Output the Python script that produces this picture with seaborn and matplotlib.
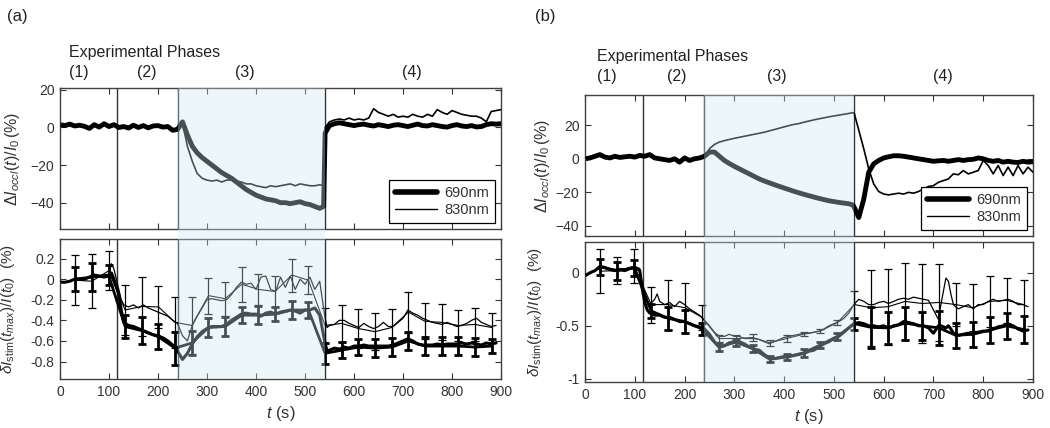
import numpy as np
import matplotlib
matplotlib.use("Agg")
import matplotlib.pyplot as plt
import matplotlib.transforms as mtransforms
from matplotlib.patches import Rectangle
from matplotlib.lines import Line2D
import seaborn as sns

# ---------------- data ----------------
# top panels: time grid (s)
T_TOP = list(range(0, 540, 10)) + [538, 541] + list(range(550, 910, 10))

occl_690_a = [1.5, 1.0, 1.8, 0.8, 1.2, 0.6, -0.5, 1.5, 0.2, 2.0,
              0.5, 1.5, 0.0, 0.5, -0.3, 1.2, 0.0, 1.0, -0.2, 0.8,
              1.0, 0.2, 0.5, -1.5, -1.0, 3.0, -4.0, -10.0, -13.5, -16.0,
              -18, -20, -22, -24, -25.5, -27, -29, -31, -33, -34.5,
              -36, -37, -38, -38.5, -39, -40, -40, -40.5, -40, -39.5,
              -40.5, -41, -42, -43,
              -42.0, -3.0,
              1.0, 2.0, 2.5, 2.0, 1.5, 1.0, 1.5, 1.8, 1.2, 0.8,
              1.5, 1.0, 0.5, 1.2, 1.5, 1.0, 0.5, 1.2, 1.8, 1.0,
              0.8, 1.5, 1.0, 0.5, 0.2, 1.0, 1.5, 0.8, 0.5, 1.0,
              0.3, 0.5, 1.5, 2.0, 1.8, 2.0]
occl_830_a = [1.0, 1.5, 1.2, 0.5, 1.5, 0.2, 0.0, 2.0, 0.8, 1.5,
              0.0, 1.8, 0.5, 0.0, 0.5, 1.5, -0.5, 1.5, 0.3, 0.2,
              1.5, 0.0, 0.8, -1.0, -0.5, 2.5, -10, -18, -24.5, -27,
              -28, -28.5, -28, -29, -28, -28, -28.5, -29, -30, -30,
              -31, -31.5, -32, -31, -31.5, -31, -30.5, -30, -31, -30,
              -30.5, -31, -31, -30.5,
              -31.0, 0.0,
              3.0, 4.0, 4.5, 4.0, 5.0, 4.0, 4.5, 4.0, 5.0, 10.0,
              8.0, 7.0, 6.0, 7.0, 5.5, 6.0, 5.5, 7.0, 6.0, 5.5,
              7.0, 6.0, 9.5, 8.0, 7.0, 9.0, 8.0, 7.0, 6.5, 6.0,
              6.0, 5.0, 3.0, 8.5, 9.0, 9.5]

occl_690_b = [0.0, 0.5, 1.5, 2.5, 1.0, 0.5, 1.5, 0.8, 1.2, 1.5,
              1.0, 2.0, 1.5, 2.5, 0.5, 0.0, -0.5, -1.0, 0.0, -2.0,
              0.5, -1.0, 0.0, 0.5,
              1.5, 4.0, 4.0, 1.5, -1.0, -2.8, -4.5, -6.0, -7.5, -9.0,
              -10.5, -12.0, -13.2, -14.3, -15.4, -16.4, -17.4, -18.4, -19.4, -20.3,
              -21.2, -22.0, -22.8, -23.6, -24.3, -25.0, -25.5, -26.0, -26.4, -26.8,
              -27.5, -29.0,
              -35, -24, -8, -3, -1, 0.5, 1.2, 1.8, 1.8, 1.5,
              1.0, 0.5, 0.0, -0.5, -1.0, -1.5, -1.2, -1.0, -1.5, -1.0,
              -0.5, -1.0, -0.5, -0.3, 0.5, 0.0, -1.0, -1.5, -1.0, -2.0,
              -1.5, -2.0, -2.2, -1.5, -2.0, -1.8]
occl_830_b = [0.5, 1.0, 2.0, 1.5, 0.5, 1.0, 2.0, 0.5, 1.5, 1.0,
              1.5, 2.5, 1.0, 2.0, 0.0, 0.5, -1.0, -0.5, -0.5, -1.5,
              0.0, -0.5, 0.5, 0.0,
              1.0, 6.0, 8.5, 10.0, 10.8, 11.5, 12.2, 12.8, 13.4, 14.0,
              14.6, 15.2, 15.8, 16.6, 17.4, 18.2, 19.0, 19.8, 20.5, 21.0,
              21.8, 22.5, 23.2, 23.8, 24.4, 25.0, 25.5, 26.0, 26.5, 27.0,
              27.5, 27.0,
              17, 6, -6, -15, -19.5, -21, -21.5, -21, -20.5, -21,
              -20, -20.5, -19.5, -18, -16.5, -16, -14, -13, -12, -9,
              -9.5, -7, -9, -8, -7, -1, -4, -9, -4, -10,
              -5, -10, -4, -9, -5, -8]

# bottom panels: fine curves
T_BOT_A = list(range(0, 101, 10)) + [105, 110, 120, 125] + list(range(130, 541, 10)) + [545] + list(range(550, 891, 10))
stim_690_a = [-0.03, -0.03, -0.02, 0.0, 0.0, 0.0, 0.02, 0.04, 0.03, 0.02, 0.03,
              0.06, 0.0, -0.15, -0.3,
              -0.42, -0.45, -0.46, -0.48, -0.5, -0.52, -0.54, -0.55, -0.57, -0.6,
              -0.64, -0.7, -0.78, -0.72, -0.63, -0.56, -0.51, -0.48, -0.46, -0.46,
              -0.46, -0.44, -0.4, -0.37, -0.34, -0.33, -0.34, -0.34, -0.36, -0.33,
              -0.32, -0.34, -0.32, -0.31, -0.3, -0.31, -0.33, -0.3, -0.3, -0.28,
              -0.35, -0.6,
              -0.7,
              -0.69, -0.67, -0.68, -0.66, -0.67, -0.65, -0.65, -0.64, -0.65, -0.65,
              -0.65, -0.65, -0.65, -0.64, -0.62, -0.6, -0.58, -0.6, -0.63, -0.64,
              -0.64, -0.64, -0.63, -0.64, -0.63, -0.63, -0.63, -0.62, -0.63, -0.62,
              -0.63, -0.64, -0.62, -0.63, -0.62]
stim_830_a = [-0.02, -0.03, -0.02, 0.0, 0.01, 0.0, 0.02, 0.03, 0.02, 0.03, 0.05,
              0.15, 0.1, -0.1, -0.2,
              -0.25, -0.27, -0.25, -0.28, -0.25, -0.28, -0.3, -0.32, -0.34, -0.36,
              -0.4, -0.43, -0.55, -0.6, -0.45, -0.36, -0.28, -0.2, -0.19, -0.2,
              -0.21, -0.2, -0.15, -0.08, -0.03, -0.05, -0.04, -0.1, 0.02, 0.03,
              -0.1, -0.12, 0.02, -0.08, 0.03, -0.1, 0.0, -0.05, 0.02, -0.1,
              -0.02, -0.35,
              -0.47,
              -0.45, -0.44, -0.4, -0.4, -0.43, -0.45, -0.47, -0.43, -0.46, -0.48,
              -0.46, -0.42, -0.46, -0.46, -0.42, -0.38, -0.3, -0.33, -0.35, -0.38,
              -0.4, -0.42, -0.43, -0.44, -0.42, -0.44, -0.46, -0.45, -0.43, -0.4,
              -0.38, -0.42, -0.44, -0.46, -0.45]

T_BOT_B = list(range(0, 111, 10)) + [115, 120, 125, 130, 140, 145] + list(range(150, 711, 10)) + [715, 725, 730, 735] + list(range(740, 891, 10))
stim_690_b = [-0.03, 0.0, 0.02, 0.06, 0.05, 0.03, 0.02, 0.03, 0.02, 0.04, 0.05, 0.02,
              -0.15, -0.28, -0.35, -0.38, -0.4, -0.4,
              -0.4, -0.42, -0.42, -0.44, -0.46, -0.46, -0.48, -0.5, -0.51, -0.53,
              -0.58, -0.65, -0.7, -0.69, -0.66, -0.65, -0.65, -0.67, -0.7, -0.72,
              -0.73, -0.77, -0.8, -0.81, -0.8, -0.79, -0.79, -0.78, -0.77, -0.76,
              -0.74, -0.73, -0.7, -0.67, -0.65, -0.62, -0.6, -0.56, -0.52, -0.48,
              -0.47, -0.48, -0.5, -0.5, -0.51, -0.5, -0.52, -0.5, -0.49, -0.46,
              -0.47, -0.48, -0.5, -0.5, -0.52, -0.57, -0.5,
              -0.5, -0.52, -0.5, -0.53,
              -0.57, -0.59, -0.58, -0.57, -0.58, -0.56, -0.55, -0.55, -0.53, -0.51,
              -0.5, -0.49, -0.5, -0.53, -0.55, -0.54]
stim_830_b = [-0.02, 0.0, 0.02, 0.04, 0.05, 0.03, 0.03, 0.04, 0.03, 0.05, 0.06, 0.04,
              -0.1, -0.2, -0.28, -0.3, -0.25, -0.2,
              -0.27, -0.3, -0.28, -0.32, -0.27, -0.3, -0.34, -0.37, -0.4, -0.45,
              -0.5, -0.56, -0.6, -0.6, -0.58, -0.6, -0.6, -0.62, -0.62, -0.62,
              -0.63, -0.65, -0.67, -0.65, -0.63, -0.61, -0.6, -0.59, -0.58, -0.57,
              -0.57, -0.56, -0.55, -0.53, -0.5, -0.48, -0.46, -0.43, -0.38, -0.3,
              -0.25, -0.27, -0.3, -0.3, -0.28, -0.27, -0.29, -0.27, -0.25, -0.24,
              -0.25, -0.23, -0.24, -0.25, -0.26, -0.35, -0.44,
              -0.3, -0.05, -0.08, -0.2,
              -0.3, -0.34, -0.32, -0.3, -0.34, -0.3, -0.3, -0.27, -0.25, -0.27,
              -0.26, -0.25, -0.27, -0.3, -0.3, -0.32]

# error bar samples
T_BAR = [31, 65, 99, 133, 167, 201, 235, 269, 303, 337, 371, 405, 439,
         473, 507, 541, 575, 609, 643, 677, 711, 745, 779, 813, 847, 881]
bar_690_a = [0.0, 0.02, 0.04, -0.46, -0.5, -0.56, -0.67, -0.62, -0.47, -0.46, -0.35, -0.35, -0.34,
             -0.3, -0.3, -0.72, -0.69, -0.66, -0.67, -0.66, -0.6, -0.65, -0.65, -0.65, -0.66, -0.65]
err_690_a = [0.115, 0.135, 0.1, 0.11, 0.13, 0.12, 0.16, 0.115, 0.09, 0.095, 0.08, 0.085, 0.07,
             0.085, 0.075, 0.1, 0.08, 0.08, 0.09, 0.09, 0.085, 0.09, 0.09, 0.09, 0.085, 0.07]
bar_830_a = [-0.01, -0.02, 0.08, -0.3, -0.265, -0.27, -0.42, -0.45, -0.16, -0.19, -0.05, -0.1, -0.12,
             0.04, -0.01, -0.45, -0.43, -0.48, -0.51, -0.47, -0.32, -0.41, -0.42, -0.45, -0.44, -0.47]
err_830_a = [0.24, 0.26, 0.19, 0.245, 0.285, 0.2, 0.25, 0.28, 0.175, 0.165, 0.17, 0.15, 0.15,
             0.16, 0.135, 0.17, 0.18, 0.19, 0.18, 0.18, 0.2, 0.175, 0.175, 0.15, 0.16, 0.14]
bar_690_b = [0.055, 0.02, 0.045, -0.36, -0.43, -0.46, -0.53, -0.7, -0.655, -0.715, -0.815, -0.795, -0.755,
             -0.68, -0.6, -0.48, -0.515, -0.52, -0.475, -0.5, -0.52, -0.59, -0.58, -0.54, -0.5, -0.535]
err_690_b = [0.075, 0.085, 0.08, 0.07, 0.105, 0.105, 0.055, 0.04, 0.035, 0.035, 0.03, 0.03, 0.035,
             0.03, 0.03, 0.055, 0.195, 0.15, 0.155, 0.13, 0.16, 0.12, 0.12, 0.12, 0.12, 0.125]
bar_830_b = [0.015, 0.02, 0.06, -0.3, -0.3, -0.33, -0.42, -0.62, -0.62, -0.61, -0.66, -0.62, -0.58,
             -0.55, -0.47, -0.3, -0.33, -0.32, -0.27, -0.29, -0.28, -0.3, -0.33, -0.27, -0.26, -0.3]
err_830_b = [0.205, 0.13, 0.16, 0.17, 0.235, 0.235, 0.12, 0.03, 0.03, 0.03, 0.03, 0.03, 0.02,
             0.02, 0.02, 0.13, 0.36, 0.36, 0.36, 0.37, 0.36, 0.2, 0.22, 0.24, 0.21, 0.23]

PHASE_LINES = [117, 240, 540]
STIM_START, STIM_END = 240, 540
PHASE_LABELS = ["(1)", "(2)", "(3)", "(4)"]
LEGEND_LABELS = ["690nm", "830nm"]

# ---------------- style ----------------
sns.set_theme(style="ticks")
plt.rcParams["font.family"] = ["Liberation Sans", "DejaVu Sans"]
plt.rcParams["mathtext.fontset"] = "custom"
plt.rcParams["mathtext.rm"] = "Liberation Sans"
plt.rcParams["mathtext.it"] = "Liberation Sans:italic"
plt.rcParams["mathtext.bf"] = "Liberation Sans:bold"
TXT = "#333333"

W, H = 1050, 428
fig = plt.figure(figsize=(W / 100, H / 100), dpi=100)


def px_axes(x0, y0, x1, y1):
    return fig.add_axes([x0 / W, 1 - y1 / H, (x1 - x0) / W, (y1 - y0) / H])


def style_axes(ax, show_x):
    ax.set_xlim(0, 900)
    ax.set_xticks(range(0, 901, 100))
    ax.tick_params(direction="in", top=True, right=True, length=4, width=0.8,
                   labelsize=10, colors=TXT, pad=4)
    if not show_x:
        ax.tick_params(labelbottom=False)
    for s in ax.spines.values():
        s.set_color("#404040")
        s.set_linewidth(1.0)
    for x in PHASE_LINES:
        ax.axvline(x, color="#333333", lw=1.0, zorder=1)


def draw_top(ax, v690, v830, ylim, yticks):
    sns.lineplot(x=T_TOP, y=v830, ax=ax, color="black", lw=1.2, legend=False, zorder=3)
    sns.lineplot(x=T_TOP, y=v690, ax=ax, color="black", lw=3.5, legend=False, zorder=2)
    ax.set_ylim(*ylim)
    ax.set_yticks(yticks)
    ax.set_xlabel("")
    ax.set_ylabel(r"$\Delta I_{occl}(t)/I_0\,(\%)$", fontsize=11.5, color=TXT)
    handles = [Line2D([], [], color="black", lw=4), Line2D([], [], color="black", lw=1)]
    leg = ax.legend(handles, LEGEND_LABELS, loc="lower right", fontsize=10.5,
                    fancybox=False, framealpha=1, edgecolor="black",
                    handlelength=2.9, handletextpad=0.5, borderaxespad=0.4,
                    labelspacing=0.25)
    leg.get_frame().set_linewidth(0.9)
    for t in leg.get_texts():
        t.set_color(TXT)


def draw_bottom(ax, tb, f690, f830, b690, e690, b830, e830, ylim, yticks, yticklabels):
    sns.lineplot(x=tb, y=f830, ax=ax, color="black", lw=0.9, legend=False, zorder=3)
    ax.errorbar(T_BAR, b830, yerr=e830, fmt="-", color="black", lw=0.8,
                elinewidth=0.9, capsize=3.2, capthick=0.9, zorder=3)
    sns.lineplot(x=tb, y=f690, ax=ax, color="black", lw=2.2, legend=False, zorder=2)
    ax.errorbar(T_BAR, b690, yerr=e690, fmt="-", color="black", lw=2.0,
                elinewidth=2.0, capsize=3, capthick=2.0, zorder=2)
    ax.set_ylim(*ylim)
    ax.set_yticks(yticks)
    ax.set_yticklabels(yticklabels)
    ax.set_xlabel(r"$t$ (s)", fontsize=12, color=TXT, labelpad=4)
    ax.set_ylabel(r"$\delta I_{\rm stim}(t_{max})/I(t_0)$  (%)", fontsize=11, color=TXT)


def shade(ax_top, ax_bot):
    trans = mtransforms.blended_transform_factory(ax_top.transData, fig.transFigure)
    y0 = ax_bot.get_position().y0
    y1 = ax_top.get_position().y1
    rect = Rectangle((STIM_START, y0), STIM_END - STIM_START, y1 - y0, transform=trans,
                     facecolor=(206 / 255, 234 / 255, 240 / 255), alpha=0.35,
                     edgecolor="none", zorder=10)
    fig.add_artist(rect)


# ---------------- panel (a) ----------------
ax_at = px_axes(60, 88, 501, 229)
ax_ab = px_axes(60, 239, 501, 379)
style_axes(ax_at, False)
style_axes(ax_ab, True)
draw_top(ax_at, occl_690_a, occl_830_a, (-54, 21), [-40, -20, 0, 20])
draw_bottom(ax_ab, T_BOT_A, stim_690_a, stim_830_a, bar_690_a, err_690_a, bar_830_a, err_830_a,
            (-0.97, 0.39), [-0.8, -0.6, -0.4, -0.2, 0, 0.2],
            ["-0.8", "-0.6", "-0.4", "-0.2", "0", "0.2"])
ax_at.yaxis.set_label_coords(-0.086, 0.5)
ax_ab.yaxis.set_label_coords(-0.098, 0.5)
shade(ax_at, ax_ab)

# ---------------- panel (b) ----------------
ax_bt = px_axes(585, 95, 1033, 236)
ax_bb = px_axes(585, 242, 1033, 382)
style_axes(ax_bt, False)
style_axes(ax_bb, True)
draw_top(ax_bt, occl_690_b, occl_830_b, (-46, 38), [-40, -20, 0, 20])
draw_bottom(ax_bb, T_BOT_B, stim_690_b, stim_830_b, bar_690_b, err_690_b, bar_830_b, err_830_b,
            (-1.03, 0.29), [-1, -0.5, 0], ["-1", "-0.5", "0"])
ax_bt.yaxis.set_label_coords(-0.074, 0.5)
ax_bb.yaxis.set_label_coords(-0.092, 0.5)
shade(ax_bt, ax_bb)

# ---------------- annotations ----------------
def ftext(x, y, s, size, **kw):
    fig.text(x / W, 1 - y / H, s, fontsize=size, color="#222222", va="center", **kw)

ftext(7, 17, "(a)", 12)
ftext(535, 17, "(b)", 12)
ftext(69, 52, "Experimental Phases", 11.5)
ftext(597, 57, "Experimental Phases", 11.5)
for x, lab in zip([79, 147, 245, 412], PHASE_LABELS):
    ftext(x, 72, lab, 11.5, ha="center")
for x, lab in zip([607, 677, 777, 943], PHASE_LABELS):
    ftext(x, 77, lab, 11.5, ha="center")

fig.savefig("out.png", dpi=100)
